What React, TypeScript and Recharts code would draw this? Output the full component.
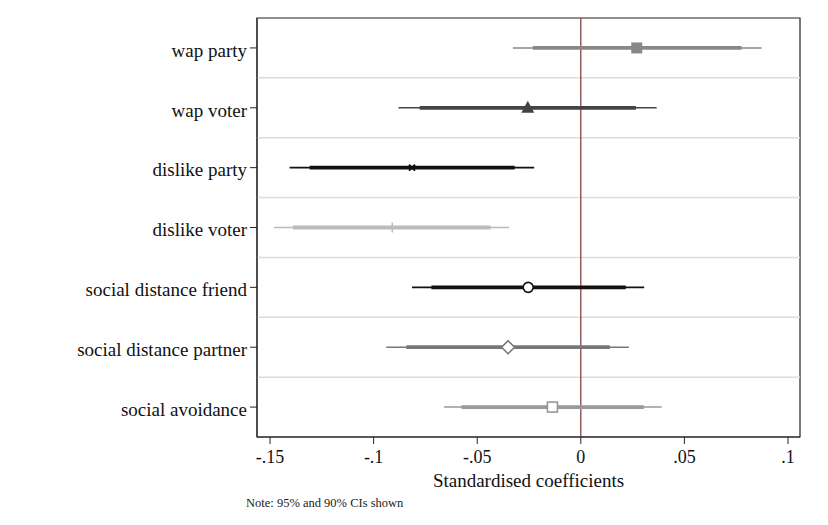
import {
  ScatterChart,
  Scatter,
  XAxis,
  YAxis,
  ErrorBar,
  ReferenceLine,
  ReferenceArea,
} from 'recharts';

const rows = [
  'wap party',
  'wap voter',
  'dislike party',
  'dislike voter',
  'social distance friend',
  'social distance partner',
  'social avoidance',
];
const coef = [0.027, -0.0256, -0.0815, -0.091, -0.0254, -0.0351, -0.0137];
const lo95 = [-0.0328, -0.088, -0.1406, -0.1481, -0.0815, -0.0939, -0.066];
const hi95 = [0.0873, 0.0366, -0.0225, -0.0346, 0.0306, 0.0232, 0.039];
const lo90 = [-0.0232, -0.0778, -0.1309, -0.139, -0.0721, -0.0842, -0.0576];
const hi90 = [0.0776, 0.0266, -0.0319, -0.0436, 0.0217, 0.014, 0.0304];
const xTicks = [-0.15, -0.1, -0.05, 0, 0.05, 0.1];
const xTickLabels = ['-.15', '-.1', '-.05', '0', '.05', '.1'];

const colors = ['#888888', '#444444', '#111111', '#bbbbbb', '#111111', '#777777', '#999999'];

const FONT = '"Liberation Serif", "DejaVu Serif", serif';
const X_DOMAIN: [number, number] = [-0.1563, 0.1058];

// marker shapes, one per row
const markers: Array<(p: any) => any> = [
  ({ cx, cy }) => <rect x={cx - 5.5} y={cy - 5.5} width={11} height={11} fill="#888888" />,
  ({ cx, cy }) => (
    <polygon points={`${cx},${cy - 7} ${cx - 6.5},${cy + 5} ${cx + 6.5},${cy + 5}`} fill="#444444" />
  ),
  ({ cx, cy }) => (
    <g stroke="#111111" strokeWidth={2}>
      <line x1={cx - 3} y1={cy - 3} x2={cx + 3} y2={cy + 3} />
      <line x1={cx - 3} y1={cy + 3} x2={cx + 3} y2={cy - 3} />
    </g>
  ),
  ({ cx, cy }) => <line x1={cx} y1={cy - 5} x2={cx} y2={cy + 5} stroke="#bbbbbb" strokeWidth={1.5} />,
  ({ cx, cy }) => <circle cx={cx} cy={cy} r={5} fill="#fff" stroke="#111111" strokeWidth={1.6} />,
  ({ cx, cy }) => (
    <polygon
      points={`${cx},${cy - 6.5} ${cx + 6.5},${cy} ${cx},${cy + 6.5} ${cx - 6.5},${cy}`}
      fill="#fff"
      stroke="#777777"
      strokeWidth={1.6}
    />
  ),
  ({ cx, cy }) => (
    <rect x={cx - 5} y={cy - 5} width={10} height={10} fill="#fff" stroke="#999999" strokeWidth={1.6} />
  ),
];

export default function App() {
  const series = rows.map((name, i) => ({
    name,
    data: [
      {
        x: coef[i],
        y: i + 1,
        e95: [coef[i] - lo95[i], hi95[i] - coef[i]],
        e90: [coef[i] - lo90[i], hi90[i] - coef[i]],
      },
    ],
  }));

  return (
    <div style={{ position: 'absolute', left: 0, top: 0, width: 828, height: 525, background: '#fff' }}>
      <ScatterChart width={828} height={525} margin={{ top: 18, right: 28, left: 0, bottom: 0 }}>
        <XAxis
          type="number"
          dataKey="x"
          domain={X_DOMAIN}
          ticks={xTicks}
          allowDataOverflow
          tickFormatter={(v: number) => xTickLabels[xTicks.findIndex(t => Math.abs(t - v) < 1e-9)] ?? ''}
          height={88}
          stroke="#222"
          tickSize={7}
          tickMargin={6}
          tick={{ fill: '#111', fontSize: 18, fontFamily: FONT }}
          label={{
            value: 'Standardised coefficients',
            position: 'insideBottom',
            offset: 38,
            fill: '#111',
            fontSize: 19,
            fontFamily: FONT,
          }}
        />
        <YAxis
          type="number"
          dataKey="y"
          domain={[0.5, 7.5]}
          ticks={[1, 2, 3, 4, 5, 6, 7]}
          reversed
          allowDataOverflow
          width={257}
          stroke="#222"
          tickSize={7}
          tickMargin={3}
          tickFormatter={(v: number) => rows[v - 1] ?? ''}
          tick={{ fill: '#111', fontSize: 19, fontFamily: FONT, dy: 2 }}
        />
        {[1.5, 2.5, 3.5, 4.5, 5.5, 6.5].map(y => (
          <ReferenceLine key={y} y={y} stroke="#dcdcdc" strokeWidth={1.5} />
        ))}
        <ReferenceArea
          x1={X_DOMAIN[0]}
          x2={X_DOMAIN[1]}
          y1={0.5}
          y2={7.5}
          fill="none"
          stroke="#222"
          strokeWidth={1.2}
          fillOpacity={0}
        />
        <ReferenceLine x={0} stroke="#7a3434" strokeWidth={1.2} />
        {series.map((s, i) => (
          <Scatter
            key={s.name}
            name={s.name}
            data={s.data}
            isAnimationActive={false}
            shape={markers[i]}
          >
            <ErrorBar dataKey="e95" direction="x" width={0} stroke={colors[i]} strokeWidth={1.6} />
            <ErrorBar dataKey="e90" direction="x" width={0} stroke={colors[i]} strokeWidth={3.8} />
          </Scatter>
        ))}
      </ScatterChart>
      <div
        style={{
          position: 'absolute',
          left: 246,
          top: 496,
          fontFamily: FONT,
          fontSize: 12.5,
          color: '#222',
        }}
      >
        Note: 95% and 90% CIs shown
      </div>
    </div>
  );
}
